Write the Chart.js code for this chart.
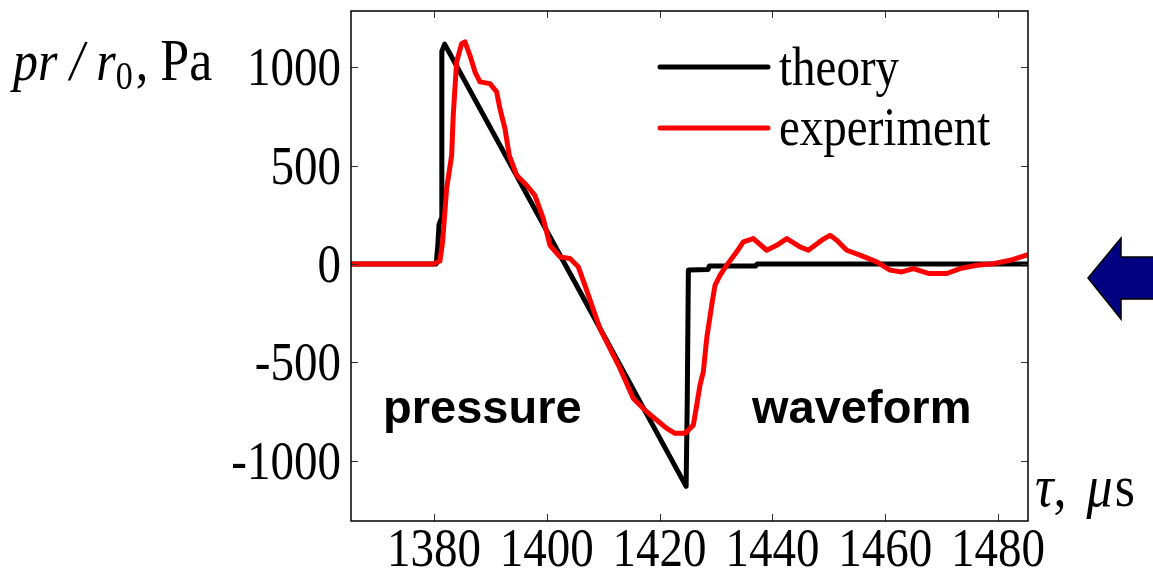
<!DOCTYPE html>
<html>
<head>
<meta charset="utf-8">
<script src="https://cdn.jsdelivr.net/npm/chart.js@4.4.0/dist/chart.umd.min.js"></script>
<style>
  body { margin: 0; background: #fff; }
  canvas { display: block; }
</style>
</head>
<body>
<canvas id="waveChart" width="1153" height="579"></canvas>
<script>
// time in microseconds, pressure scaled by r / r0 in Pa
var theoryTime = [1365.3, 1380.4, 1380.7, 1380.9, 1381.3, 1381.4, 1381.9, 1405.9, 1424.7, 1424.9, 1425.1, 1428.6, 1428.8, 1437.0, 1437.3, 1485.3];
var theoryPressure = [0, 0, 100, 200, 230, 1080, 1117, -141, -1129, -700, -30, -28, -10, -10, 0, 0];

var experimentTime = [1365.3, 1379.9, 1381.06, 1381.54, 1382.25, 1383.14, 1383.42, 1384.02, 1384.91, 1385.5, 1386.38, 1387.27, 1388.16, 1389.93,
  1391.12, 1391.7, 1392.59, 1393.35, 1394.66, 1396.44, 1397.9, 1399.38, 1400.57, 1402.34, 1404.11, 1405.59, 1406.77, 1409.43,
  1412.98, 1415.34, 1417.71, 1421.26, 1422.73, 1424.5, 1425.98, 1426.58, 1427.16, 1427.75, 1428.35, 1429.24, 1429.82, 1430.71,
  1431.9, 1433.67, 1434.84, 1436.61, 1438.99, 1440.76, 1442.54, 1444.89, 1446.36, 1448.74, 1450.21, 1451.4, 1453.17, 1455.53,
  1458.49, 1460.85, 1462.92, 1464.98, 1467.64, 1470.9, 1473.26, 1476.22, 1479.17, 1482.13, 1485.3];
var experimentPressure = [0, 0, 15, 113, 383, 552, 755, 1026, 1119, 1128, 1060, 976, 925, 916,
  874, 789, 688, 552, 451, 400, 349, 231, 95, 36, 28, -14, -108, -328,
  -530, -683, -750, -835, -860, -860, -818, -717, -615, -547, -378, -209, -108, -57,
  -6, 62, 113, 129, 70, 95, 129, 87, 70, 121, 146, 121, 70, 45,
  11, -31, -40, -23, -48, -48, -23, -6, 2, 19, 48];

var timeTicks = [1380, 1400, 1420, 1440, 1460, 1480];
var pressureTicks = [-1000, -500, 0, 500, 1000];

var serif = '"Liberation Serif", "Times New Roman", serif';
var sans = '"Liberation Sans", Arial, sans-serif';
var stretch = 1.15; // serif text is set a little taller than wide

var toPoints = function (xs, ys) {
  var pts = [];
  for (var i = 0; i < xs.length; i++) {
    pts.push({ x: xs[i], y: ys[i] });
  }
  return pts;
};

var useTicks = function (values) {
  return function (scale) {
    scale.ticks = values.map(function (v) { return { value: v }; });
  };
};

var tallText = function (ctx, text, x, y) {
  ctx.save();
  ctx.translate(x, y);
  ctx.scale(1, stretch);
  ctx.fillText(text, 0, 0);
  ctx.restore();
};

// draws a row of text pieces with their own fonts, left to right
var drawParts = function (ctx, x, y, parts) {
  for (var i = 0; i < parts.length; i++) {
    ctx.font = parts[i].font;
    tallText(ctx, parts[i].text, x, y + (parts[i].dy || 0));
    x += ctx.measureText(parts[i].text).width + (parts[i].gap || 0);
  }
};

var framePlugin = {
  id: 'frame',
  afterDraw: function (chart) {
    var ctx = chart.ctx;
    var area = chart.chartArea;
    var xs = chart.scales.x;
    var ys = chart.scales.y;
    var tick = 7;
    ctx.save();

    // inward ticks on all four sides
    ctx.strokeStyle = '#333';
    ctx.lineWidth = 1;
    ctx.beginPath();
    xs.ticks.forEach(function (t) {
      var px = Math.round(xs.getPixelForValue(t.value)) + 0.5;
      ctx.moveTo(px, area.bottom); ctx.lineTo(px, area.bottom - tick);
      ctx.moveTo(px, area.top); ctx.lineTo(px, area.top + tick);
    });
    ys.ticks.forEach(function (t) {
      var py = Math.round(ys.getPixelForValue(t.value)) + 0.5;
      ctx.moveTo(area.left, py); ctx.lineTo(area.left + tick, py);
      ctx.moveTo(area.right, py); ctx.lineTo(area.right - tick, py);
    });
    ctx.stroke();

    ctx.strokeStyle = '#000';
    ctx.lineWidth = 1.5;
    ctx.strokeRect(area.left, area.top, area.right - area.left, area.bottom - area.top);

    // tick labels
    ctx.fillStyle = '#000';
    ctx.font = '47px ' + serif;
    ctx.textAlign = 'center';
    ctx.textBaseline = 'alphabetic';
    xs.ticks.forEach(function (t) {
      tallText(ctx, String(t.value), xs.getPixelForValue(t.value), 566);
    });
    ctx.textAlign = 'right';
    ys.ticks.forEach(function (t) {
      tallText(ctx, String(t.value), 341, ys.getPixelForValue(t.value) + 18);
    });

    // axis titles
    ctx.textAlign = 'left';
    drawParts(ctx, 13, 80, [
      { text: 'pr / r', font: 'italic 50px ' + serif },
      { text: '0', font: '34px ' + serif, dy: 9, gap: 3 },
      { text: ',', font: '50px ' + serif, gap: 12 },
      { text: 'Pa', font: '52px ' + serif }
    ]);
    drawParts(ctx, 1035, 506, [
      { text: '\u03C4', font: 'italic 52px ' + serif },
      { text: ',', font: '52px ' + serif, gap: 20 },
      { text: '\u03BC', font: 'italic 52px ' + serif, gap: 2 },
      { text: 's', font: '52px ' + serif }
    ]);

    // labels inside the plot
    ctx.font = 'bold 47px ' + sans;
    ctx.fillText('pressure', 383, 423);
    ctx.fillText('waveform', 752, 423);

    // legend
    ctx.lineCap = 'round';
    ctx.lineWidth = 5;
    ctx.strokeStyle = '#000';
    ctx.beginPath(); ctx.moveTo(660, 67); ctx.lineTo(768, 67); ctx.stroke();
    ctx.strokeStyle = '#ff0000';
    ctx.beginPath(); ctx.moveTo(660, 128); ctx.lineTo(768, 128); ctx.stroke();
    ctx.font = '47px ' + serif;
    tallText(ctx, 'theory', 779, 85);
    tallText(ctx, 'experiment', 779, 145);

    // arrow at the right edge
    ctx.fillStyle = '#000080';
    ctx.strokeStyle = '#000';
    ctx.lineWidth = 1.5;
    ctx.lineCap = 'butt';
    ctx.beginPath();
    ctx.moveTo(1088, 278);
    ctx.lineTo(1121, 238);
    ctx.lineTo(1121, 257);
    ctx.lineTo(1160, 257);
    ctx.lineTo(1160, 299);
    ctx.lineTo(1121, 299);
    ctx.lineTo(1121, 319);
    ctx.closePath();
    ctx.fill();
    ctx.stroke();

    ctx.restore();
  }
};

var ctx = document.getElementById('waveChart');
var waveChart = new Chart(ctx, {
  type: 'line',
  data: {
    datasets: [
      {
        label: 'experiment',
        data: toPoints(experimentTime, experimentPressure),
        borderColor: '#ff0000',
        borderWidth: 5,
        pointRadius: 0,
        tension: 0,
        borderJoinStyle: 'round'
      },
      {
        label: 'theory',
        data: toPoints(theoryTime, theoryPressure),
        borderColor: '#000000',
        borderWidth: 5,
        pointRadius: 0,
        tension: 0,
        borderJoinStyle: 'round'
      }
    ]
  },
  options: {
    responsive: false,
    animation: false,
    devicePixelRatio: 1,
    layout: { padding: { left: 351, right: 125, top: 11, bottom: 58 } },
    plugins: { legend: { display: false }, tooltip: { enabled: false } },
    scales: {
      x: { type: 'linear', min: 1365.3, max: 1485.3, display: false, afterBuildTicks: useTicks(timeTicks) },
      y: { type: 'linear', min: -1305, max: 1285, display: false, afterBuildTicks: useTicks(pressureTicks) }
    }
  },
  plugins: [framePlugin]
});
</script>
</body>
</html>
